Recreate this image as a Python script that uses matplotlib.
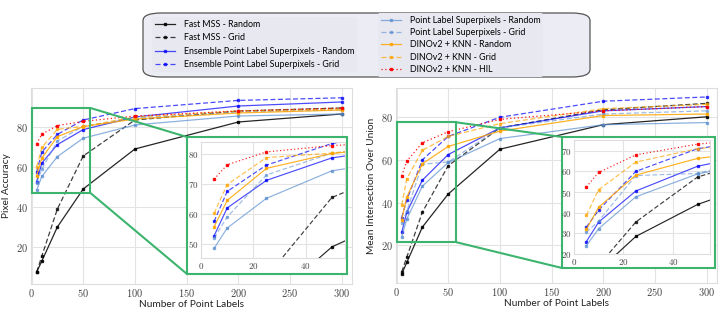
import numpy as np
import matplotlib
matplotlib.use('Agg')
import matplotlib.pyplot as plt
from matplotlib.patches import Rectangle, FancyBboxPatch, ConnectionPatch
from matplotlib.ticker import FuncFormatter

plt.rcParams['mathtext.fontset'] = 'cm'
plt.rcParams['font.family'] = ['Lato', 'DejaVu Sans']

# number of point labels
n_points = [5, 10, 25, 50, 100, 200, 300]

# pixel accuracy
pa_fastmss_random = [7.5, 13.0, 30.0, 49.0, 69.0, 82.5, 86.5]
pa_fastmss_grid = [7.5, 15.5, 39.0, 65.5, 83.5, 88.0, 89.5]
pa_ens_random = [52.7, 62.0, 71.2, 78.7, 85.0, 90.5, 92.5]
pa_ens_grid = [57.5, 67.5, 76.3, 83.5, 89.2, 93.3, 94.6]
pa_pls_random = [48.5, 55.3, 65.2, 74.4, 81.0, 85.5, 86.5]
pa_pls_grid = [52.0, 59.0, 73.0, 80.3, 84.5, 87.5, 88.5]
pa_dino_random = [55.7, 64.5, 75.2, 80.2, 84.0, 87.0, 88.5]
pa_dino_grid = [60.2, 69.8, 78.8, 80.3, 85.0, 88.0, 89.0]
pa_dino_hil = [71.6, 76.4, 80.7, 82.8, 85.5, 88.0, 89.5]

# mean intersection over union
miou_fastmss_random = [6.5, 12.0, 28.5, 44.0, 65.0, 76.5, 80.2]
miou_fastmss_grid = [7.5, 14.5, 35.5, 57.3, 75.0, 83.5, 86.5]
miou_ens_random = [26.0, 35.5, 50.5, 62.5, 75.0, 83.0, 85.0]
miou_ens_grid = [33.0, 41.3, 60.0, 71.0, 80.0, 87.5, 89.5]
miou_pls_random = [24.0, 32.3, 47.7, 58.8, 70.0, 76.5, 77.5]
miou_pls_grid = [30.5, 36.0, 58.0, 59.0, 75.0, 81.5, 83.0]
miou_dino_random = [32.0, 42.7, 58.2, 66.3, 73.5, 80.8, 81.5]
miou_dino_grid = [38.8, 51.2, 64.5, 71.0, 77.0, 84.0, 86.0]
miou_dino_hil = [52.5, 59.5, 68.0, 73.2, 79.0, 83.0, 85.0]

labels = ['Fast MSS - Random', 'Fast MSS - Grid',
          'Ensemble Point Label Superpixels - Random', 'Ensemble Point Label Superpixels - Grid',
          'Point Label Superpixels - Random', 'Point Label Superpixels - Grid',
          'DINOv2 + KNN - Random', 'DINOv2 + KNN - Grid', 'DINOv2 + KNN - HIL']

styles = [
    dict(color='black', ls='-', alpha=0.85),
    dict(color='black', ls=(0, (4, 2)), alpha=0.75),
    dict(color='blue', ls='-', alpha=0.7),
    dict(color='blue', ls=(0, (4, 2)), alpha=0.7),
    dict(color='#5b8fd0', ls='-', alpha=0.7),
    dict(color='#5b8fd0', ls=(0, (4, 2)), alpha=0.6),
    dict(color='orange', ls='-', alpha=0.85),
    dict(color='orange', ls=(0, (4, 2)), alpha=0.7),
    dict(color='red', ls=(0, (1, 2)), alpha=0.9),
]

pa_series = [pa_fastmss_random, pa_fastmss_grid, pa_ens_random, pa_ens_grid,
             pa_pls_random, pa_pls_grid, pa_dino_random, pa_dino_grid, pa_dino_hil]
miou_series = [miou_fastmss_random, miou_fastmss_grid, miou_ens_random, miou_ens_grid,
               miou_pls_random, miou_pls_grid, miou_dino_random, miou_dino_grid, miou_dino_hil]

green = '#3cb46e'
W, H = 725, 309
fig = plt.figure(figsize=(W / 100, H / 100), dpi=100)

cm_fmt = FuncFormatter(lambda v, p: r'$%g$' % v)


def px(x0, y0, x1, y1):
    # pixel box -> figure fraction [left, bottom, width, height]
    return [x0 / W, 1 - y1 / H, (x1 - x0) / W, (y1 - y0) / H]


def style_axes(ax, fs):
    ax.set_facecolor('white')
    ax.grid(True, color='#e3e3e3', lw=0.8)
    ax.set_axisbelow(True)
    for s in ax.spines.values():
        s.set_color('#dddddd')
        s.set_linewidth(0.8)
    ax.tick_params(length=0, labelsize=fs, colors='#444444', pad=2)
    ax.xaxis.set_major_formatter(cm_fmt)
    ax.yaxis.set_major_formatter(cm_fmt)


def draw(ax, series, lw=0.9, ms=2.0):
    handles = []
    for vals, st in zip(series, styles):
        h, = ax.plot(n_points, vals, marker='s', markersize=ms, lw=lw, **st)
        handles.append(h)
    return handles


def panel(box, inset_box, green_box, series, ylabel, ylim, inset_ylim, zoom_rect):
    ax = fig.add_axes(px(*box))
    handles = draw(ax, series)
    style_axes(ax, 7.5)
    ax.set_xlim(-0.5, 310)
    ax.set_ylim(*ylim)
    ax.set_xticks([0, 50, 100, 150, 200, 250, 300])
    ax.set_yticks([20, 40, 60, 80])
    ax.set_xlabel('Number of Point Labels', fontsize=7.3, labelpad=1, color='#222222')
    ax.set_ylabel(ylabel, fontsize=7.3, labelpad=4, color='#222222')

    # zoomed region in the main axes
    zx0, zx1, zy0, zy1 = zoom_rect
    ax.add_patch(Rectangle((zx0, zy0), zx1 - zx0, zy1 - zy0, fill=False,
                           ec=green, lw=1.5, zorder=5, clip_on=False))

    # green frame around the inset (figure pixels)
    gx0, gy0, gx1, gy1 = green_box
    frame = Rectangle((gx0 / W, 1 - gy1 / H), (gx1 - gx0) / W, (gy1 - gy0) / H,
                      transform=fig.transFigure, fc='white', ec=green, lw=1.5, zorder=6)
    fig.add_artist(frame)

    axin = fig.add_axes(px(*inset_box))
    axin.set_zorder(10)
    draw(axin, series, lw=0.85, ms=1.6)
    style_axes(axin, 6.5)
    axin.set_xlim(0, 55)
    axin.set_ylim(*inset_ylim)
    axin.set_xticks([0, 20, 40])

    for (xa, ya), (xf, yf) in [((zx1, zy1), (gx0, gy0)), ((zx1, zy0), (gx0, gy1))]:
        con = ConnectionPatch(xyA=(xa, ya), coordsA=ax.transData,
                              xyB=(xf / W, 1 - yf / H), coordsB=fig.transFigure,
                              color=green, lw=1.5, zorder=5)
        fig.add_artist(con)
    return handles


handles = panel((31, 88, 352, 284), (201, 142, 345, 258), (187, 137, 347, 274),
                pa_series, 'Pixel Accuracy', (1.5, 99.5), (45.3, 84), (0, 57, 47, 89.5))
panel((396, 88, 717, 283), (574, 140, 710, 254), (562, 137, 715, 268),
      miou_series, 'Mean Intersection Over Union', (2.3, 93.7), (20, 75.2), (0, 58, 21.4, 77.6))

# legend: rounded box with two columns
box = FancyBboxPatch((143 / W, 1 - 77 / H), (447 / W), (64 / H),
                     boxstyle='round,pad=0,rounding_size=0.025', transform=fig.transFigure,
                     fc='#ececf4', ec='#555555', lw=0.9)
fig.add_artist(box)
leg_kw = dict(fontsize=6.4, frameon=True, facecolor='#e8e8f1', edgecolor='none', framealpha=1,
              handlelength=2.2, borderpad=0.3, handletextpad=1.0)
leg1 = fig.legend(handles[:4], labels[:4], loc='center left', labelspacing=0.5,
                  bbox_to_anchor=(148 / W, 1 - 44.5 / H), **leg_kw)
leg2 = fig.legend(handles[4:], labels[4:], loc='center left', labelspacing=0.38,
                  bbox_to_anchor=(374 / W, 1 - 45 / H), **leg_kw)

fig.savefig('out.png', dpi=100)
